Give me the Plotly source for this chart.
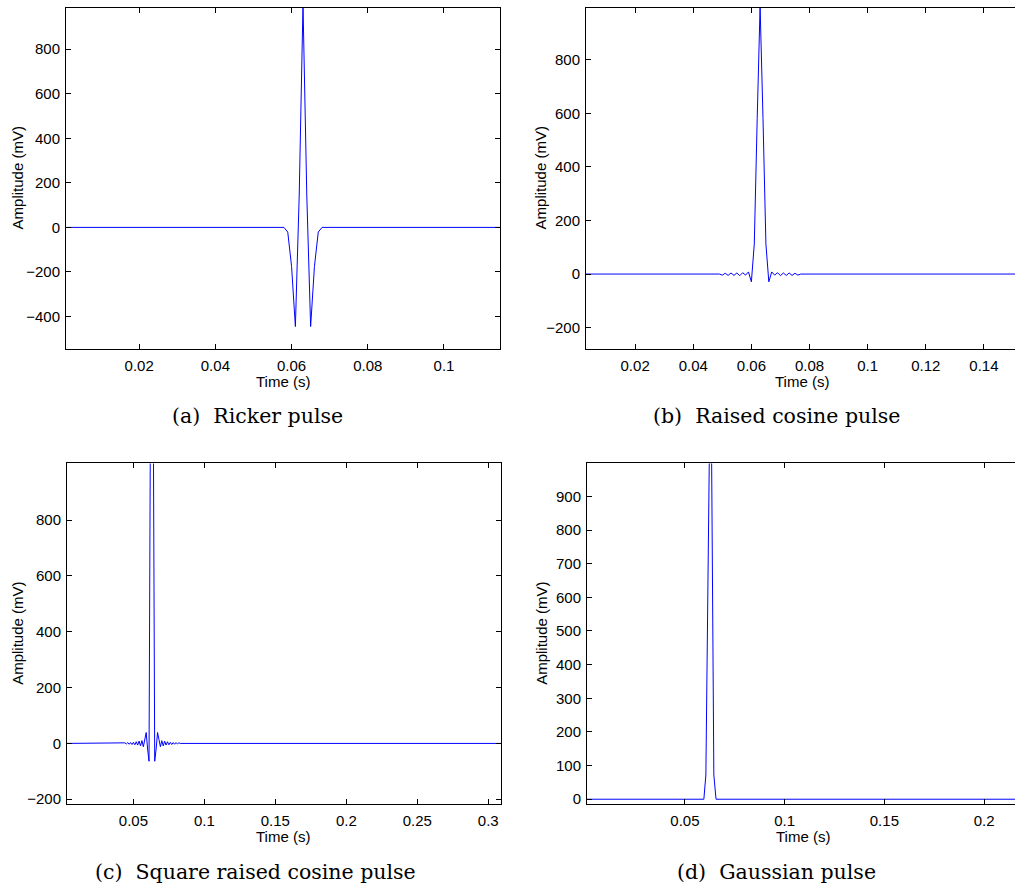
import plotly.graph_objects as go

W, H = 1015, 887

# ---- data (time in s, amplitude in mV) ----
t_ricker = [0.001, 0.058, 0.059, 0.060, 0.061, 0.062, 0.063, 0.064, 0.065, 0.066, 0.067, 0.068, 0.115]
v_ricker = [0, 0, -21, -175, -445, 141, 1000, 141, -445, -175, -21, 0, 0]

t_rcos = [0.003, 0.049, 0.050, 0.051, 0.052, 0.053, 0.054, 0.055, 0.056, 0.057, 0.058, 0.059,
          0.060, 0.061, 0.062, 0.063, 0.064, 0.065, 0.066,
          0.067, 0.068, 0.069, 0.070, 0.071, 0.072, 0.073, 0.074, 0.075, 0.076, 0.077, 0.151]
v_rcos = [0, 0, -4, 3, -5, 4, -5, 4, -6, 5, -4, 8,
          -29, 112, 580, 1000, 580, 112, -29,
          8, -4, 5, -6, 4, -5, 4, -5, 3, -4, 0, 0]

t_sqrc = [0.003, 0.043, 0.044, 0.045, 0.046, 0.047, 0.048, 0.049, 0.050, 0.051, 0.052, 0.053,
          0.054, 0.055, 0.056, 0.057, 0.058, 0.059, 0.060, 0.061, 0.062, 0.063, 0.064, 0.065,
          0.066, 0.067, 0.068, 0.069, 0.070, 0.071, 0.072, 0.073, 0.074, 0.075, 0.076, 0.077,
          0.078, 0.079, 0.080, 0.081, 0.082, 0.083, 0.309]
v_sqrc = [0, 0, 2, -2, 3, -3, 3, -4, 4, -5, 6, -6,
          8, -9, 10, -12, 14, 39, -20, -64, 1200, 1300, 1200, -64,
          -20, 39, 14, -12, 10, -9, 8, -6, 6, -5, 4, -4,
          3, -3, 3, -2, 2, 0, 0]

t_gauss = [0.001, 0.0595, 0.0605, 0.0622, 0.0634, 0.0645, 0.0656, 0.2155]
v_gauss = [0, 0, 72, 1000, 1000, 72, 0, 0]

captions = ["(a)  Ricker pulse", "(b)  Raised cosine pulse",
            "(c)  Square raised cosine pulse", "(d)  Gaussian pulse"]
xlabel = "Time (s)"
ylabel = "Amplitude (mV)"

xt_a = [0.02, 0.04, 0.06, 0.08, 0.1]
yt_a = [-400, -200, 0, 200, 400, 600, 800]
xt_b = [0.02, 0.04, 0.06, 0.08, 0.1, 0.12, 0.14]
yt_b = [-200, 0, 200, 400, 600, 800]
xt_c = [0.05, 0.1, 0.15, 0.2, 0.25, 0.3]
yt_c = [-200, 0, 200, 400, 600, 800]
xt_d = [0.05, 0.1, 0.15, 0.2]
yt_d = [0, 100, 200, 300, 400, 500, 600, 700, 800, 900]

# ---- layout helpers (pixel boxes) ----
def px(x):
    return x / W

def py(y):
    return 1 - y / H

panels = [
    dict(t=t_ricker, v=v_ricker, box=(66, 8, 500, 350), xr=[0.0008, 0.1147], yr=[-545, 985],
         xt=xt_a, yt=yt_a, right=True),
    dict(t=t_rcos, v=v_rcos, box=(586, 8, 1015, 350), xr=[0.0031, 0.1507], yr=[-279, 993],
         xt=xt_b, yt=yt_b, right=False),
    dict(t=t_sqrc, v=v_sqrc, box=(67, 465, 501, 807), xr=[0.0032, 0.309], yr=[-218, 1003],
         xt=xt_c, yt=yt_c, right=True),
    dict(t=t_gauss, v=v_gauss, box=(587, 465, 1015, 807), xr=[0.0009, 0.2155], yr=[-15, 998],
         xt=xt_d, yt=yt_d, right=False),
]

tickfont = dict(family="Liberation Sans, Arial, sans-serif", size=15, color="black")

def fmt(v):
    s = ("%g" % v)
    return s.replace("-", "\u2212")

fig = go.Figure()
layout = dict(width=W, height=H, margin=dict(l=0, r=0, t=0, b=0),
              paper_bgcolor="white", plot_bgcolor="white", showlegend=False)
annotations = []

for i, p in enumerate(panels):
    n = "" if i == 0 else str(i + 1)
    x0, y0, x1, y1 = p["box"]
    fig.add_trace(go.Scatter(x=p["t"], y=p["v"], mode="lines",
                             line=dict(color="rgb(0,0,255)", width=1),
                             xaxis="x" + n, yaxis="y" + n, hoverinfo="skip"))
    layout["xaxis" + n] = dict(domain=[px(x0), px(x1)], range=p["xr"], anchor="y" + n,
                               tickvals=p["xt"], ticktext=[fmt(v) for v in p["xt"]],
                               ticks="inside", ticklen=5, tickcolor="black", tickwidth=1,
                               showline=True, linecolor="black", linewidth=1, mirror="ticks",
                               showgrid=False, zeroline=False, tickfont=tickfont,
                               ticklabelstandoff=3)
    layout["yaxis" + n] = dict(domain=[py(y1), py(y0)], range=p["yr"], anchor="x" + n,
                               tickvals=p["yt"], ticktext=[fmt(v) for v in p["yt"]],
                               ticks="inside", ticklen=5, tickcolor="black", tickwidth=1,
                               showline=True, linecolor="black", linewidth=1,
                               mirror="ticks" if p["right"] else False,
                               showgrid=False, zeroline=False, tickfont=tickfont,
                               ticklabelstandoff=2)

# axis titles and captions placed in pixel coordinates
xt_pos = [(283, 383), (802, 383), (283, 839), (803, 839)]
yt_pos = [(17, 179), (540, 179), (18, 636), (542, 636)]
cap_pos = [(257, 417), (776, 417), (256, 875), (776, 875)]
for i in range(4):
    annotations.append(dict(text=xlabel, x=px(xt_pos[i][0]), y=py(xt_pos[i][1]),
                            xref="paper", yref="paper", showarrow=False,
                            xanchor="center", yanchor="middle", font=tickfont))
    annotations.append(dict(text=ylabel, x=px(yt_pos[i][0]), y=py(yt_pos[i][1]),
                            xref="paper", yref="paper", showarrow=False, textangle=-90,
                            xanchor="center", yanchor="middle", font=tickfont))
    annotations.append(dict(text=captions[i], x=px(cap_pos[i][0]), y=py(cap_pos[i][1]),
                            xref="paper", yref="paper", showarrow=False,
                            xanchor="center", yanchor="middle",
                            font=dict(family="DejaVu Serif, serif", size=20.5, color="black")))

layout["annotations"] = annotations
fig.update_layout(**layout)
fig.write_html("out.html")
